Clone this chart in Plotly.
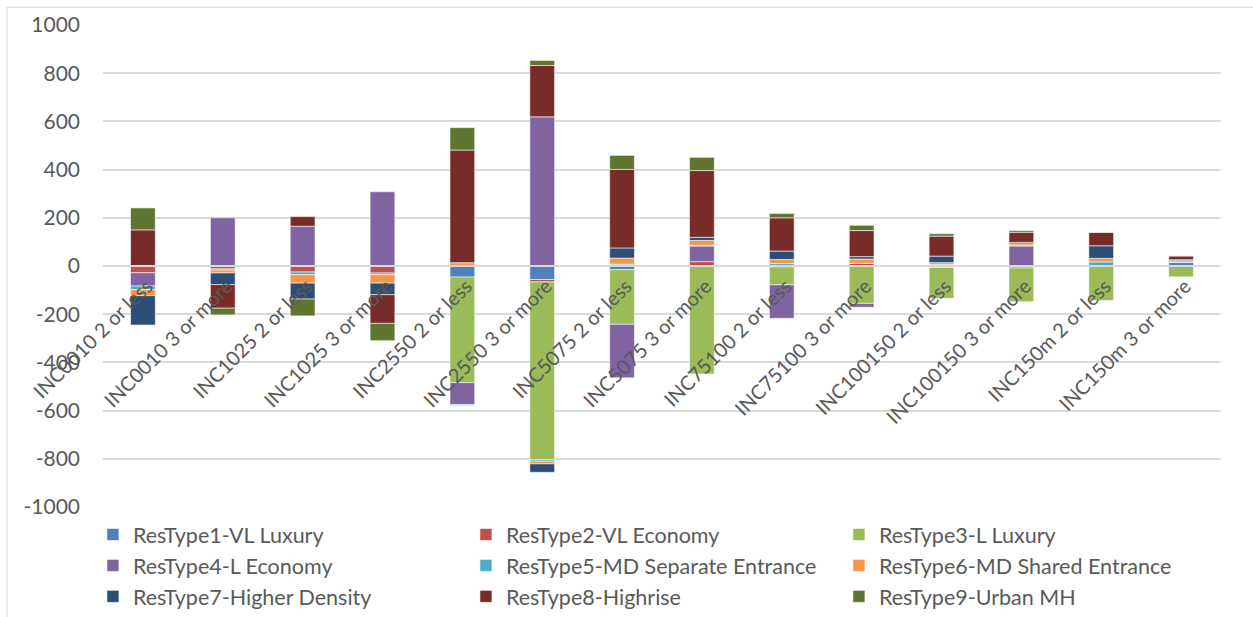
import plotly.graph_objs as go

categories = [
    "INC0010 2 or less", "INC0010 3 or more",
    "INC1025 2 or less", "INC1025 3 or more",
    "INC2550 2 or less", "INC2550 3 or more",
    "INC5075 2 or less", "INC5075 3 or more",
    "INC75100 2 or less", "INC75100 3 or more",
    "INC100150 2 or less", "INC100150 3 or more",
    "INC150m 2 or less", "INC150m 3 or more",
]

restype1 = [0, 0, 0, 0, -46, -56, -15, 0, -4, 0, -6, -8, 0, 16]
restype2 = [-28, -12, -25, -29, 0, -10, 4, 18, 0, 11, 0, 0, 0, 0]
restype3 = [0, 0, 0, 0, -438, -737, -227, -448, -74, -155, -128, -140, -143, -45]
restype4 = [-55, 200, 165, 308, -91, 619, -222, 65, -139, -16, 0, 84, 0, 0]
restype5 = [-15, -5, -11, -7, -4, -7, 4, 3, 10, 0, 6, 0, 17, 6]
restype6 = [-25, -12, -35, -35, 14, -11, 25, 20, 17, 18, 8, 8, 15, 0]
restype7 = [-122, -48, -66, -48, 0, -35, 42, 13, 35, 10, 27, 6, 52, 4]
restype8 = [150, -98, 40, -119, 467, 213, 326, 277, 138, 108, 83, 42, 56, 16]
restype9 = [91, -28, -70, -72, 93, 21, 58, 55, 18, 22, 10, 7, 0, 0]

series_names = [
    "ResType1-VL Luxury", "ResType2-VL Economy", "ResType3-L Luxury",
    "ResType4-L Economy", "ResType5-MD Separate Entrance", "ResType6-MD Shared Entrance",
    "ResType7-Higher Density", "ResType8-Highrise", "ResType9-Urban MH",
]
series_values = [restype1, restype2, restype3, restype4, restype5,
                 restype6, restype7, restype8, restype9]
colors = ["#4F81BD", "#C0504D", "#9BBB59", "#8064A2", "#4BACC6",
          "#F79646", "#2C4D75", "#772C2A", "#5F7530"]

# y tick labels, Excel style (plain hyphen for minus)
y_tickvals = [1000, 800, 600, 400, 200, 0, -200, -400, -600, -800, -1000]
y_ticktext = ["1000", "800", "600", "400", "200", "0",
              "-200", "-400", "-600", "-800", "-1000"]

FONT = "Lato, Calibri, sans-serif"
GREY_TEXT = "#595959"
GRID = "#D9D9D9"


# one stacked bar series
def stack_trace(name, values, color):
    return go.Bar(
        x=categories,
        y=values,
        name=name,
        marker=dict(color=color, line=dict(color="rgba(255,255,255,0.7)", width=0.8)),
    )


fig = go.Figure()
for name, vals, col in zip(series_names, series_values, colors):
    fig.add_trace(stack_trace(name, vals, col))

# the snapshot squeezes the page height by ~0.98, so lay out on a 629px page
# plot area: px 103..1221 across, 25..510 down
fig.update_layout(
    width=1253,
    height=629,
    margin=dict(l=103, r=32, t=25, b=119),
    barmode="relative",
    bargap=0.69,
    plot_bgcolor="white",
    paper_bgcolor="white",
    font=dict(family=FONT, color=GREY_TEXT),
    legend=dict(
        orientation="h",
        x=-0.009,
        xanchor="left",
        y=-0.0145,
        yanchor="top",
        entrywidth=328,
        entrywidthmode="pixels",
        font=dict(family=FONT, size=21.5, color=GREY_TEXT),
        traceorder="normal",
    ),
    xaxis=dict(
        type="category",
        anchor="free",
        position=0.5,
        tickangle=-45,
        showline=True,
        linecolor=GRID,
        linewidth=1.5,
        showgrid=False,
        ticks="",
        ticklabelshift=4,
        tickfont=dict(family=FONT, size=20, color=GREY_TEXT),
        automargin=False,
    ),
    yaxis=dict(
        range=[-1000, 1000],
        tickmode="array",
        tickvals=y_tickvals,
        ticktext=y_ticktext,
        showgrid=True,
        gridcolor=GRID,
        gridwidth=1.5,
        zeroline=False,
        ticks="",
        ticklabelstandoff=22,
        tickfont=dict(family=FONT, size=21, color=GREY_TEXT),
        automargin=False,
    ),
    shapes=[
        dict(
            type="rect",
            xref="paper",
            yref="paper",
            x0=-0.0859,
            x1=1.05,
            y0=-0.4,
            y1=1.037,
            line=dict(color=GRID, width=1),
            layer="below",
        )
    ],
)

fig.write_html(
    "out.html",
    config={"displayModeBar": False},
    post_script="document.body.style.margin='0';",
)
